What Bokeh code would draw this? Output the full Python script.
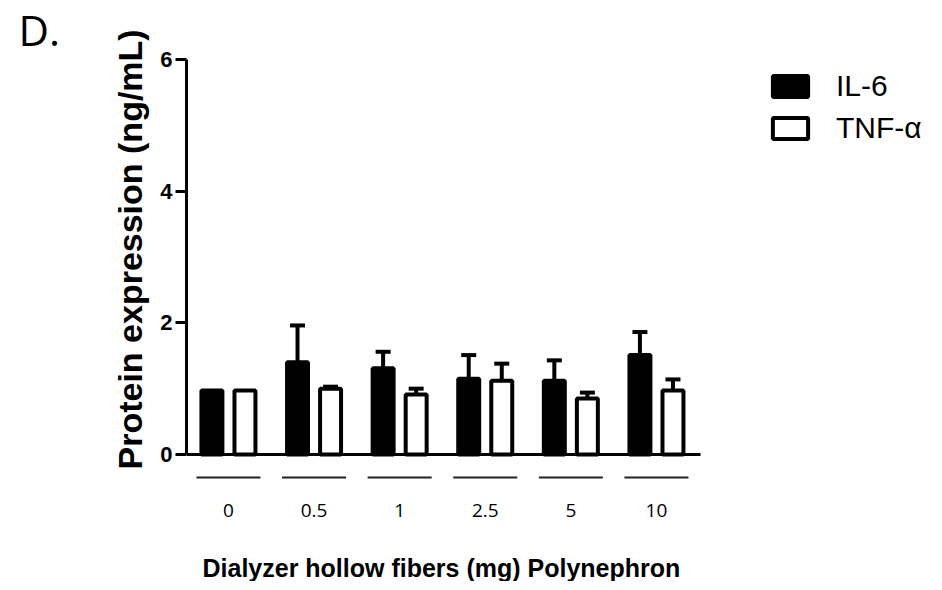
from bokeh.plotting import figure
from bokeh.models import (Range1d, FixedTicker, Whisker, TeeHead, Legend,
                          LegendItem, ColumnDataSource, Title)
from bokeh.transform import dodge
from bokeh.core.properties import value
from bokeh.embed import file_html
from bokeh.resources import INLINE

# ---- data ----
doses = ["0", "0.5", "1", "2.5", "5", "10"]
il6 = [0.97, 1.40, 1.31, 1.15, 1.12, 1.51]
il6_upper = [0.97, 1.96, 1.56, 1.51, 1.43, 1.86]
tnf = [0.97, 1.00, 0.91, 1.12, 0.85, 0.97]
tnf_upper = [0.97, 1.03, 1.00, 1.38, 0.94, 1.14]
y_ticks = [0, 2, 4, 6]

idx = list(range(len(doses)))
src = ColumnDataSource(dict(idx=idx, il6=il6, il6_hi=il6_upper, tnf=tnf, tnf_hi=tnf_upper,
                            dose=doses))

# ---- layout constants ----
X0 = -0.49                      # left end of the value axis
X_AXIS_END = len(doses) - 0.485  # right end of the drawn x axis line
UNIT_X = 85.6                   # pixels per group
UNIT_Y = 65.83                  # pixels per ng/mL
FW, FH = 740, 492
Y_TOP = 6
p = figure(frame_width=FW, frame_height=FH, output_backend="svg", toolbar_location=None,
           x_range=Range1d(X0, X0 + FW / UNIT_X),
           y_range=Range1d(Y_TOP - FH / UNIT_Y, Y_TOP),
           x_axis_location=None,
           min_border_left=186, min_border_right=0, min_border_top=52,
           min_border_bottom=30)
p.grid.visible = False
p.outline_line_color = None
p.background_fill_color = "white"
p.border_fill_color = "white"

p.title.text = "D."
p.title.align = "left"
p.title.offset = -168
p.title.standoff = 0
p.title.vertical_align = "top"
p.title.text_font = "Open Sans"
p.title.text_font_size = "42px"
p.title.text_font_style = "normal"
p.title.text_color = "black"

OFF = 0.193
BW = 0.245
r1 = p.vbar(x=dodge("idx", -OFF, range=p.x_range), top="il6", width=BW, source=src,
            fill_color="black", line_color="black", line_width=4)
r2 = p.vbar(x=dodge("idx", OFF, range=p.x_range), top="tnf", width=BW, source=src,
            fill_color="white", line_color="black", line_width=4)

# error bars (upper only), skip where no error
def whisk(col_val, col_hi, off):
    xs, lo, hi = [], [], []
    for i, (v, h) in enumerate(zip(src.data[col_val], src.data[col_hi])):
        if h > v:
            xs.append(i); lo.append(v); hi.append(h)
    s = ColumnDataSource(dict(x=xs, lo=lo, hi=hi))
    w = Whisker(source=s, base=dodge("x", off, range=p.x_range), lower="lo", upper="hi",
                dimension="height", line_width=4, line_color="black",
                upper_head=TeeHead(size=15, line_width=4, line_color="black"),
                lower_head=None)
    p.add_layout(w)

whisk("il6", "il6_hi", -OFF)
whisk("tnf", "tnf_hi", OFF)

# x axis line at y=0
p.segment(x0=[X0], y0=[0], x1=[X_AXIS_END], y1=[0], line_color="black", line_width=3)

# group underlines and dose labels (category axis drawn under the bars)
ul = ColumnDataSource(dict(x0=[i - 0.374 for i in idx], x1=[i + 0.374 for i in idx],
                           y=[-0.35] * len(idx)))
p.segment(x0="x0", y0="y", x1="x1", y1="y", source=ul, line_color="#222222", line_width=2)
p.text(x="idx", y=-0.85, text="dose", source=src, text_align="center",
       text_baseline="middle", text_font=value("Open Sans"), text_font_size="19px",
       text_color="black")

# y axis
ya = p.yaxis[0]
ya.ticker = FixedTicker(ticks=y_ticks)
ya.bounds = (0, 6)
ya.axis_line_width = 3
ya.major_tick_line_width = 3
ya.major_tick_out = 11
ya.major_tick_in = 0
ya.minor_tick_out = 0
ya.minor_tick_in = 0
ya.major_label_text_font = "Liberation Sans"
ya.major_label_text_font_size = "22px"
ya.major_label_text_font_style = "bold"
ya.major_label_text_color = "black"
ya.major_label_standoff = 3

ytitle = Title(text="Protein expression (ng/mL)", align="left", offset=82, standoff=18,
               text_font="Liberation Sans", text_font_size="34px",
               text_font_style="bold", text_color="black")
p.add_layout(ytitle, "left")

xtitle = Title(text="Dialyzer hollow fibers (mg) Polynephron", align="left", offset=16,
               standoff=0, text_font="Liberation Sans", text_font_size="25px",
               text_font_style="bold", text_color="black")
p.add_layout(xtitle, "below")

legend = Legend(items=[LegendItem(label="IL-6", renderers=[r1]),
                       LegendItem(label="TNF-α", renderers=[r2])],
                location=(582, 406), glyph_width=44, glyph_height=26,
                label_text_font="Liberation Sans", label_text_font_size="30px",
                label_text_color="black",
                label_standoff=24, spacing=8, padding=0, margin=0,
                border_line_color=None, background_fill_alpha=0)
p.add_layout(legend, "center")

open("out.html", "w").write(file_html(p, INLINE))
